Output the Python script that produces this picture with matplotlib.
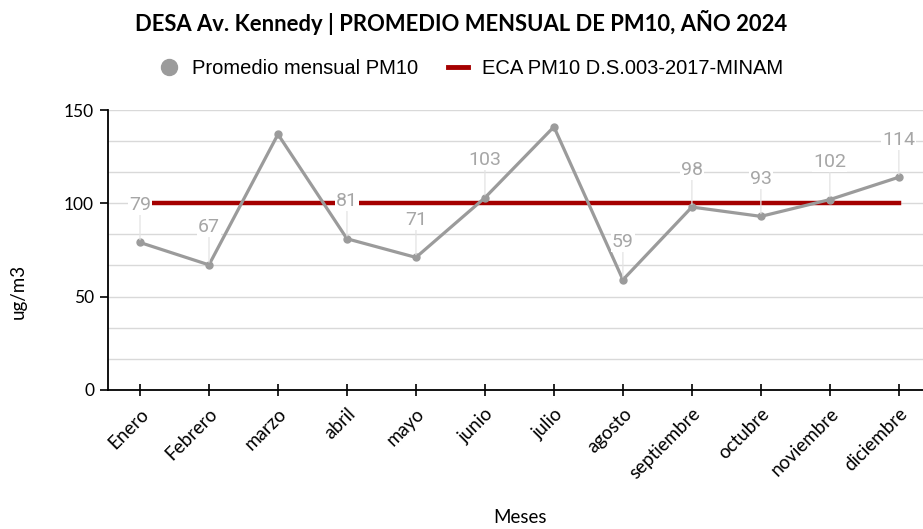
import numpy as np
import matplotlib
matplotlib.use('Agg')
import matplotlib.pyplot as plt
from matplotlib.lines import Line2D

meses = ['Enero', 'Febrero', 'marzo', 'abril', 'mayo', 'junio', 'julio',
         'agosto', 'septiembre', 'octubre', 'noviembre', 'diciembre']
pm10 = [79, 67, 137, 81, 71, 103, 141, 59, 98, 93, 102, 114]
eca = [100] * 12
# etiquetas de marzo y julio no se muestran en el original
mostrar = [True, True, False, True, True, True, False, True, True, True, True, True]

plt.rcParams['font.family'] = ['Lato', 'DejaVu Sans']

fig = plt.figure(figsize=(9.23, 5.29), dpi=100)
ax = fig.add_axes([0.117, 0.263, 0.883, 0.529])

x = np.arange(len(meses))
ax.plot(x, eca, color='#a50000', lw=3.2, zorder=2)
ax.plot(x, pm10, color='#9b9b9b', lw=2.3, marker='o', ms=5, zorder=3)

for i, v in enumerate(pm10):
    if not mostrar[i]:
        continue
    ax.annotate(str(v), xy=(i, v), xytext=(0, 27), textcoords='offset points',
                ha='center', va='center', fontsize=14, color='#a6a6a6',
                family=['Roboto', 'DejaVu Sans'],
                bbox=dict(boxstyle='square,pad=0.05', fc='white', ec='none'),
                arrowprops=dict(arrowstyle='-', color='#e3e3e3', lw=0.9,
                                shrinkA=0, shrinkB=2),
                zorder=5)

ax.set_xlim(-0.464, 11.35)
ax.set_ylim(0, 150)
ax.set_yticks([0, 50, 100, 150])
ax.set_yticks(np.linspace(0, 150, 10), minor=True)
ax.grid(True, which='both', axis='y', color='#d9d9d9', lw=1)
ax.set_axisbelow(True)
ax.tick_params(axis='y', which='minor', length=0)
ax.tick_params(axis='y', which='major', length=6, width=1.2, labelsize=12.5, pad=4)
ax.tick_params(axis='x', direction='inout', length=8, width=1.2, labelsize=13.5, pad=7)
ax.set_xticks(x)
ax.set_xticklabels(meses, rotation=45, ha='right', rotation_mode='anchor')

for s in ['top', 'right']:
    ax.spines[s].set_visible(False)
for s in ['left', 'bottom']:
    ax.spines[s].set_linewidth(1.3)

ax.set_ylabel('ug/m3', fontsize=13.5)
ax.yaxis.set_label_coords(-0.100, 0.35)
ax.set_xlabel('Meses', fontsize=13.5)
ax.xaxis.set_label_coords(0.505, -0.427)

fig.text(0.5, 0.958, 'DESA Av. Kennedy | PROMEDIO MENSUAL DE PM10, AÑO 2024',
         fontsize=15.8, fontweight='bold', ha='center', va='center')

h = [Line2D([], [], color='#9b9b9b', marker='o', ms=11.5, ls='none'),
     Line2D([], [], color='#a50000', lw=3.5)]
fig.legend(h, ['Promedio mensual PM10', 'ECA PM10 D.S.003-2017-MINAM'],
           loc='center', bbox_to_anchor=(0.510, 0.871), ncol=2, frameon=False,
           prop={'family': 'Liberation Sans', 'size': 14.5},
           handlelength=1.0, columnspacing=1.5, handletextpad=0.65)

fig.savefig('out.png', dpi=100)
